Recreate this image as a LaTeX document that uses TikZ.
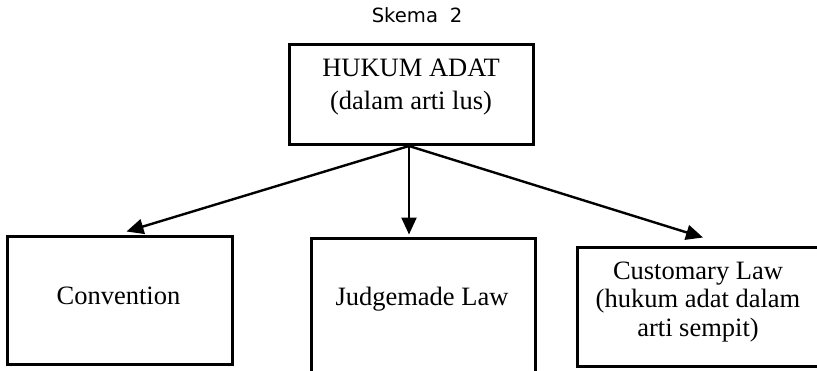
\documentclass[tikz,border=0pt]{standalone}
\usepackage{graphicx}
\usepackage{fontspec}
\setmainfont{Liberation Serif}
\newfontfamily\titlefont{DejaVu Sans}
\usetikzlibrary{arrows.meta}
\begin{document}
\begin{tikzpicture}[x=1pt,y=-1pt,
  box/.style={draw=black,line width=3pt,inner sep=0pt},
  lbl/.style={font=\fontsize{26.5}{28.5}\selectfont,align=center,inner sep=0pt},
  arr/.style={line width=2.4pt,-{Triangle[length=17pt,width=15pt]}}]
\useasboundingbox (0,0) rectangle (817,370);
\node[inner sep=0pt] (title) at (417,15) {\scalebox{1.4}{\titlefont\fontsize{14}{16}\selectfont Skema\hspace{0.6em}2}};
\node[box,minimum width=244pt,minimum height=100pt] (top) at (411,94) {};
\node[lbl,font=\fontsize{26.5}{33}\selectfont] (toptext) at (411,87) {HUKUM ADAT\\(dalam arti lus)};
\node[box,minimum width=225pt,minimum height=128pt] (conv) at (119.5,300) {};
\node[lbl] (convtext) at (118.5,296) {Convention};
\node[box,minimum width=224pt,minimum height=134pt] (judge) at (423,305) {};
\node[lbl] (judgetext) at (422,299) {Judgemade Law};
\node[box,minimum width=246pt,minimum height=119pt] (cust) at (700,306.5) {};
\node[lbl] (custtext) at (698,302) {Customary Law\\(hukum adat dalam\\arti sempit)};
\coordinate (src) at (409,146);
\draw[arr] (src) -- ([xshift=7pt,yshift=3pt]conv.north);
\draw[arr] (src) -- ([xshift=-14pt,yshift=2pt]judge.north);
\draw[arr] (src) -- ([xshift=3pt,yshift=8pt]cust.north);
\end{tikzpicture}
\end{document}
